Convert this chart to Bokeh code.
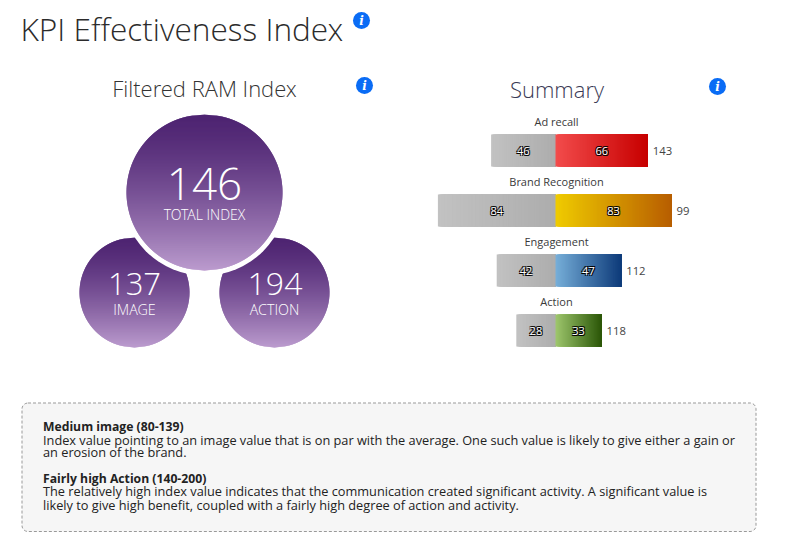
import numpy as np
from bokeh.plotting import figure
from bokeh.models import Range1d, BoxAnnotation
from bokeh.core.properties import value
from bokeh.embed import file_html
from bokeh.resources import INLINE

# ---- data ----
title = "KPI Effectiveness Index"
left_title = "Filtered RAM Index"
right_title = "Summary"
circle_values = ["146", "137", "194"]
circle_labels = ["TOTAL INDEX", "IMAGE", "ACTION"]
categories = ["Ad recall", "Brand Recognition", "Engagement", "Action"]
grey_values = [46, 84, 42, 28]
colour_values = [66, 83, 47, 33]
totals = [143, 99, 112, 118]
notes = [
    ("Medium image (80-139)", True),
    ("Index value pointing to an image value that is on par with the average. One such value is likely to give either a gain or", False),
    ("an erosion of the brand.", False),
    ("Fairly high Action (140-200)", True),
    ("The relatively high index value indicates that the communication created significant activity. A significant value is", False),
    ("likely to give high benefit, coupled with a fairly high degree of action and activity.", False),
]
note_y = [426.5, 440, 452.5, 478.5, 491.5, 505]

# ---- style / layout ----
FONT = "Open Sans"
LIGHT = "'Open Sans Light', 'Open Sans'"
PX = 1.4
ZERO = 555
W, H = 769, 534
row_y = [151, 211, 271, 331]
grey_grad = ("#c2c2c2", "#adadad")
colour_grads = [("#f24c4c", "#c70000"), ("#efcb00", "#b85e00"),
                ("#76aed8", "#0e3b7a"), ("#9dc56c", "#2b5708")]
circles = [(134, 293, 55), (274, 293, 55), (204, 193, 78)]
icons = [(361, 21), (364, 86), (717, 87)]


def hex2rgb(h):
    return np.array([int(h[i:i + 2], 16) for i in (1, 3, 5)], dtype=float)


def mix(a, b, t):
    c = hex2rgb(a) * (1 - t) + hex2rgb(b) * t
    return "#%02x%02x%02x" % tuple(int(round(v)) for v in c)


p = figure(width=W, height=H, x_range=Range1d(0, W), y_range=Range1d(H + 1, 1),
           output_backend="svg", toolbar_location=None, min_border=0,
           x_axis_type=None, y_axis_type=None, outline_line_color=None)
p.grid.visible = False
p.extra_x_ranges["val"] = Range1d((0 - ZERO) / PX, (W - ZERO) / PX)


def txt(x, y, s, size, color="#333333", font=FONT, align="center", style="normal", range_name=None, **kw):
    extra = {"x_range_name": range_name} if range_name else {}
    return p.text(x=[x], y=[y], text=[s], text_font=value(font), text_font_size=f"{size}px",
                  text_color=color, text_align=align, text_baseline="middle",
                  text_font_style=style, **extra, **kw)


def disc(cx, cy, r):
    top_c, bot_c = "#4e2472", "#bb9bce"
    xs, ys, cols = [], [], []
    for y in range(cy - r, cy + r):
        y2 = min(y + 2, cy + r)
        y0, y1 = y - cy, y2 - cy
        w0 = np.sqrt(max(r * r - y0 * y0, 0))
        w1 = np.sqrt(max(r * r - y1 * y1, 0))
        # widest chord of the overlapping band stays on the circle
        if y0 < 0 < y1:
            xs.append([cx - w0, cx + w0, cx + r, cx + w1, cx - w1, cx - r])
            ys.append([y, y, cy, y2, y2, cy])
        else:
            xs.append([cx - w0, cx + w0, cx + w1, cx - w1])
            ys.append([y, y, y2, y2])
        cols.append(mix(top_c, bot_c, ((y + .5 - cy + r) / (2 * r)) ** 1.4))
    p.patches(xs, ys, fill_color=cols, fill_alpha=1, line_color=None)


# titles
txt(20, 29, title, 31.6, "#2b2b2b", LIGHT, "left")
txt(204, 88.5, left_title, 22, "#333333", LIGHT)
txt(556.5, 89.5, right_title, 22, "#3a3a55", LIGHT)

# info icons
for ix, iy in icons:
    p.circle(x=[ix], y=[iy], radius=8.5, fill_color="#0a6cf5", line_color=None)
    p.text(x=[ix], y=[iy], text=["i"], text_font=value("DejaVu Serif"), text_font_size="12px",
           text_font_style="bold italic", text_color="white", text_align="center", text_baseline="middle")

# circles
disc(*circles[0])
disc(*circles[1])
p.circle(x=[204], y=[193], radius=83, fill_color="white", line_color=None)
disc(*circles[2])
txt(204, 184, circle_values[0], 44, "white", LIGHT)
txt(204, 215, circle_labels[0], 14, "white", LIGHT)
txt(134, 284, circle_values[1], 31, "white", LIGHT)
txt(134, 310, circle_labels[1], 14.3, "white", LIGHT)
txt(274.5, 284, circle_values[2], 32, "white", LIGHT)
txt(274, 310, circle_labels[2], 14.3, "white", LIGHT)

# summary bars
for i, cat in enumerate(categories):
    y = row_y[i]
    g, c, t = grey_values[i], colour_values[i], totals[i]
    txt(556, y - 29, cat, 11, "#3a3a3a")
    # each strip runs on to the bar's end, so later strips overpaint earlier ones without seams
    n = int(round(g * PX))
    e = np.linspace(-g, 0, n + 1)
    p.quad(left=e[:-1], right=0, top=y - 16, bottom=y + 16, line_color=None, x_range_name="val",
           fill_color=[mix(*grey_grad, k / max(n - 1, 1)) for k in range(n)])
    n = int(round(c * PX))
    e = np.linspace(0, c, n + 1)
    p.quad(left=e[:-1], right=c, top=y - 16, bottom=y + 16, line_color=None, x_range_name="val",
           fill_color=[mix(*colour_grads[i], k / max(n - 1, 1)) for k in range(n)])
    # white numbers with a dark halo beneath
    for v, xc in ((g, -g / 2), (c, c / 2)):
        for dx, dy in ((-1, -1), (1, -1), (-1, 1), (1, 1)):
            txt(xc, y, str(v), 11, "black", range_name="val", x_offset=dx, y_offset=dy)
        txt(xc, y, str(v), 11, "white", range_name="val")
    txt(c + 3.5, y, str(t), 11.3, "#444444", align="left", range_name="val")

# note panel
p.add_layout(BoxAnnotation(left=21.5, right=755.5, top=403.5, bottom=532, fill_color="#f6f6f6", fill_alpha=1,
                           line_color="#999999", line_dash="3 2", line_width=1, line_alpha=1, border_radius=6,
                           level="underlay"))
for (s, bold), y in zip(notes, note_y):
    txt(42.5, y, s, 12.2 if bold else 12.75, "#222222", align="left", style="bold" if bold else "normal")

open("out.html", "w").write(file_html(p, INLINE))
